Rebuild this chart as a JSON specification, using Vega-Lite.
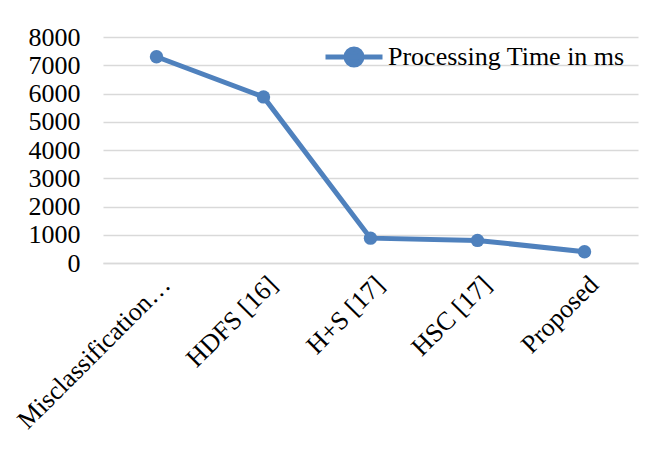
{
  "$schema": "https://vega.github.io/schema/vega-lite/v6.json",
  "autosize": "none",
  "width": 535,
  "height": 226,
  "padding": {"left": 103, "top": 37, "right": 22, "bottom": 192},
  "background": "white",
  "data": {
    "values": [
      {"method": "Misclassification…", "time": 7300, "series": "Processing Time in ms"},
      {"method": "HDFS [16]", "time": 5880, "series": "Processing Time in ms"},
      {"method": "H+S [17]", "time": 880, "series": "Processing Time in ms"},
      {"method": "HSC [17]", "time": 800, "series": "Processing Time in ms"},
      {"method": "Proposed", "time": 400, "series": "Processing Time in ms"}
    ]
  },
  "encoding": {
    "x": {
      "field": "method", "type": "ordinal", "sort": null, "title": null,
      "scale": {"type": "point", "padding": 0.5},
      "axis": {"labelAngle": -45, "labelFontSize": 26, "labelFont": "Liberation Serif", "labelColor": "black", "ticks": false, "domainColor": "#d9d9d9", "domainWidth": 1.5, "labelPadding": 8, "labelLimit": 300}
    },
    "y": {
      "field": "time", "type": "quantitative", "title": null,
      "scale": {"domain": [0, 8000], "nice": false},
      "axis": {"values": [0, 1000, 2000, 3000, 4000, 5000, 6000, 7000, 8000], "format": "d", "labelFontSize": 26, "labelFont": "Liberation Serif", "labelColor": "black", "ticks": false, "domain": false, "gridColor": "#d9d9d9", "gridWidth": 1.5, "labelPadding": 23}
    },
    "color": {
      "field": "series", "type": "nominal", "title": null,
      "scale": {"range": ["#4F81BD"]},
      "legend": {
        "orient": "none", "legendX": 220, "legendY": -11,
        "labelFontSize": 26, "labelFont": "Liberation Serif", "labelColor": "black",
        "symbolType": "M-1,0L1,0M-0.28,0A0.28,0.28,0,1,1,0.28,0A0.28,0.28,0,1,1,-0.28,0Z",
        "symbolSize": 3249, "symbolStrokeWidth": 5, "symbolFillColor": "#4F81BD", "symbolStrokeColor": "#4F81BD",
        "symbolOpacity": 1, "labelOffset": 3, "labelLimit": 400
      }
    }
  },
  "layer": [
    {"mark": {"type": "line", "strokeWidth": 5}},
    {"mark": {"type": "circle", "size": 180, "opacity": 1}}
  ],
  "config": {"view": {"stroke": null}}
}
